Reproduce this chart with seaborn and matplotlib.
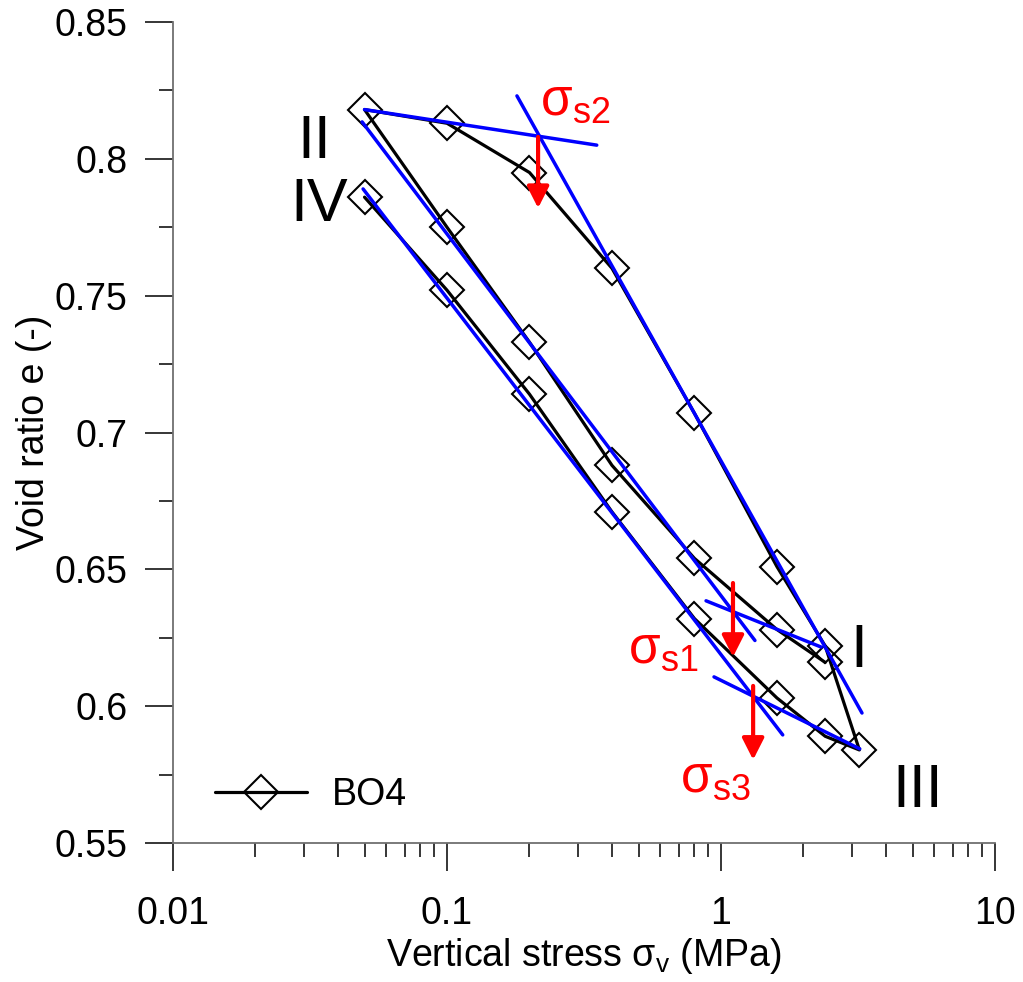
import numpy as np
import pandas as pd
import seaborn as sns
import matplotlib.pyplot as plt
from matplotlib.ticker import LogLocator, MultipleLocator, FuncFormatter, NullFormatter

# oedometer path I -> II -> III -> IV (stress in MPa, void ratio)
stress = [2.4, 1.6, 0.8, 0.4, 0.2, 0.1, 0.05,
          0.1, 0.2, 0.4, 0.8, 1.6, 2.4, 3.2,
          2.4, 1.6, 0.8, 0.4, 0.2, 0.1, 0.05]
void_ratio = [0.616, 0.628, 0.654, 0.688, 0.733, 0.775, 0.818,
              0.813, 0.795, 0.760, 0.707, 0.651, 0.622, 0.584,
              0.589, 0.603, 0.632, 0.671, 0.714, 0.752, 0.786]

# tangent lines (start/end stress, start/end void ratio)
tan_x = [(0.05, 0.352), (0.180, 3.27), (0.049, 1.33),
         (0.0494, 1.68), (0.882, 2.32), (0.943, 3.21)]
tan_y = [(0.818, 0.805), (0.823, 0.5975), (0.8135, 0.624),
         (0.789, 0.5895), (0.6385, 0.6216), (0.6107, 0.5844)]

# yield stress arrows and labels
arrow_x = [0.215, 1.106, 1.31]
arrow_top = [0.808, 0.645, 0.6074]
arrow_tip = [0.782, 0.618, 0.5804]
sig_labels = [r'$\sigma_{s2}$', r'$\sigma_{s1}$', r'$\sigma_{s3}$']
sig_x = [0.218, 0.458, 0.709]
sig_y = [0.816, 0.6158, 0.5687]

# stage labels
stage_txt = ['II', 'IV', 'I', 'III']
stage_x = [0.0327, 0.0341, 3.19, 5.24]
stage_y = [0.806, 0.783, 0.620, 0.569]

df = pd.DataFrame({'stress': stress, 'e': void_ratio})

sns.set_theme(style='ticks')
plt.rcParams['font.family'] = ['Liberation Sans', 'DejaVu Sans']
plt.rcParams['mathtext.default'] = 'regular'
plt.rcParams['text.color'] = 'black'
plt.rcParams['axes.labelcolor'] = 'black'
plt.rcParams['xtick.color'] = 'black'
plt.rcParams['ytick.color'] = 'black'

fig = plt.figure(figsize=(10.23, 9.82), dpi=100)
ax = fig.add_axes([173/1023, 1-843/982, 822/1023, 821/982])

sns.lineplot(data=df, x='stress', y='e', sort=False, estimator=None,
             color='black', lw=2.3, marker='D', ms=17, mfc='none',
             mec='black', mew=1.5, label='BO4', ax=ax, zorder=3)

for xs, ys in zip(tan_x, tan_y):
    ax.plot(xs, ys, color='#0000ff', lw=2.5, zorder=4)

for x, y0, y1 in zip(arrow_x, arrow_top, arrow_tip):
    ax.annotate('', xy=(x, y1), xytext=(x, y0),
                arrowprops=dict(arrowstyle='-|>,head_length=0.65,head_width=0.33',
                                color='red', lw=3, shrinkA=0, shrinkB=0,
                                mutation_scale=20), zorder=5)

for t, x, y in zip(sig_labels, sig_x, sig_y):
    ax.text(x, y, t, color='red', fontsize=37, ha='left', va='baseline', zorder=5)

for t, x, y in zip(stage_txt, stage_x, stage_y):
    ax.text(x, y, t, color='black', fontsize=44, ha='center', va='center')

ax.set_xscale('log')
ax.set_xlim(0.01, 10)
ax.set_ylim(0.55, 0.85)
ax.xaxis.set_major_locator(LogLocator(base=10))
ax.xaxis.set_minor_locator(LogLocator(base=10, subs=np.arange(2, 10)))
ax.xaxis.set_major_formatter(FuncFormatter(lambda v, p: '%g' % v))
ax.xaxis.set_minor_formatter(NullFormatter())
ax.yaxis.set_major_locator(MultipleLocator(0.05))
ax.yaxis.set_minor_locator(MultipleLocator(0.025))
ax.yaxis.set_major_formatter(FuncFormatter(lambda v, p: '%g' % round(v, 3)))

for s in ['top', 'right']:
    ax.spines[s].set_visible(False)
for s in ['left', 'bottom']:
    ax.spines[s].set_color('#707070')
    ax.spines[s].set_linewidth(1.3)

ax.tick_params(axis='both', which='major', length=20, width=1.1, color='black',
               labelsize=27, direction='out')
ax.tick_params(axis='both', which='minor', length=10, width=1.1, color='black',
               direction='out')
ax.tick_params(axis='x', which='major', pad=18)
ax.tick_params(axis='y', which='major', pad=12.5)

ax.set_xlabel(r'Vertical stress $\sigma_v$ (MPa)', fontsize=27, labelpad=3)
ax.set_ylabel('Void ratio e (-)', fontsize=27, labelpad=2)

ax.legend(loc='center left', bbox_to_anchor=(0.051, 0.058), frameon=False,
          fontsize=27, handlelength=2.45, handletextpad=0.67,
          borderpad=0, borderaxespad=0)

fig.savefig('out.png', dpi=100)
